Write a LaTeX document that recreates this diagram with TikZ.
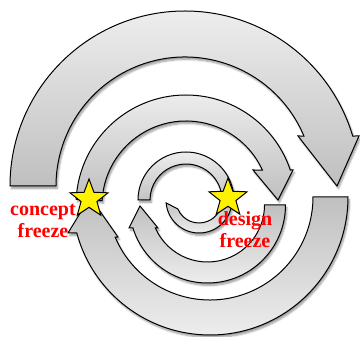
\documentclass[tikz,border=0pt]{standalone}
\usepackage{fontspec}
\setmainfont{Liberation Serif}
\usetikzlibrary{calc,shapes.geometric,shadows.blur}
\tikzset{
  topband/.style={draw=black, line width=1pt, top color=gray!14, bottom color=gray!50,
    blur shadow={shadow xshift=1.5pt, shadow yshift=-2.5pt, shadow blur steps=6, shadow opacity=40}},
  botband/.style={draw=black, line width=1pt, top color=gray!50, bottom color=gray!14,
    blur shadow={shadow xshift=1.5pt, shadow yshift=-2.5pt, shadow blur steps=6, shadow opacity=40}},
  freezestar/.style={star, star points=5, star point ratio=2.4, minimum size=40pt,
    inner sep=0pt, draw=black, line width=1pt, fill=yellow},
  freezetext/.style={text=red, font=\fontsize{20}{22}\selectfont\bfseries,
    align=center, inner sep=0pt}
}
\begin{document}
\begin{tikzpicture}[x=1pt,y=1pt]
  \useasboundingbox (0,0) rectangle (360,337);
  % Centres of the half rings
  \coordinate (c1) at (185,151);
  \coordinate (c2) at (210,140);
  \coordinate (c3) at (186,132);
  \coordinate (c4) at (207.5,132);
  \coordinate (c5) at (186,137);
  \coordinate (c6) at (199,137);
  % Outer top ring
  \draw[topband] ($(c1)+(180:175)$) arc[start angle=180,end angle=16.6,radius=175]
    -- (359,201) -- (337,151) -- (298,201) -- ($(c1)+(22.8:129)$)
    arc[start angle=22.8,end angle=180,radius=129] -- cycle;
  % Outer bottom ring
  \draw[botband] ($(c2)+(0:138)$) arc[start angle=0,end angle=-164.9,radius=138]
    -- (68,104) -- (90,140) -- (118,100) -- ($(c2)+(-157.1:103)$)
    arc[start angle=-157.1,end angle=0,radius=103] -- cycle;
  % Middle top ring
  \draw[topband] ($(c3)+(177:110)$) arc[start angle=177,end angle=18.55,radius=110]
    -- (293,167) -- (278,137) -- (253,167) -- ($(c3)+(24.6:84)$)
    arc[start angle=24.6,end angle=177,radius=84] -- cycle;
  % Middle bottom ring
  \draw[botband] ($(c4)+(0:78)$) arc[start angle=0,end angle=-162.85,radius=78]
    -- (129,109) -- (140,131) -- (158,109) -- ($(c4)+(-156.2:57)$)
    arc[start angle=-156.2,end angle=0,radius=57] -- cycle;
  % Inner rings
  \draw[topband] ($(c5)+(180:48)$) arc[start angle=180,end angle=-5,radius=48]
    -- ($(c5)+(-5:36)$) arc[start angle=-5,end angle=180,radius=36] -- cycle;
  \draw[botband] ($(c6)+(0:33)$) arc[start angle=0,end angle=-175,radius=33]
    -- ($(c6)+(-157:23)$) arc[start angle=-157,end angle=0,radius=23] -- cycle;
  % Freeze points
  \node[freezestar] (concept) at (89,138) {};
  \node[freezestar] (design) at (228,139) {};
  \node[freezetext, anchor=base] (concepttxt) at (43,99) {concept\\freeze};
  \node[freezetext, anchor=base] (designtxt) at (245,89) {design\\freeze};
\end{tikzpicture}
\end{document}
